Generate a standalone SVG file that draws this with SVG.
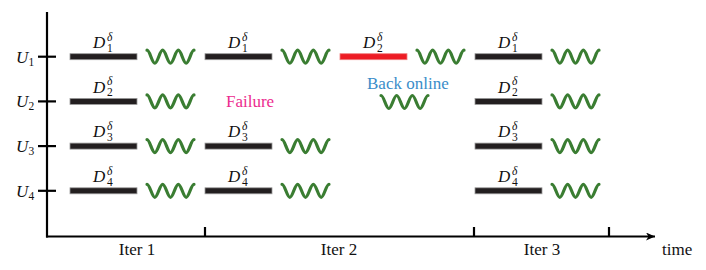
<svg xmlns="http://www.w3.org/2000/svg" xmlns:xlink="http://www.w3.org/1999/xlink" width="706" height="270" viewBox="0 0 706 270">
<style>
.t{font-family:"Liberation Serif","Times New Roman",serif;font-size:17px;fill:#111}
.m{font-family:"Liberation Serif","Times New Roman",serif;font-style:italic;font-size:17px;fill:#111}
.d{font-family:"Liberation Serif","Times New Roman",serif;font-style:italic;font-size:17px;fill:#111}
.s{font-family:"Liberation Serif","Times New Roman",serif;font-size:11.5px;fill:#111}
.si{font-family:"Liberation Serif","Times New Roman",serif;font-style:italic;font-size:11.5px;fill:#111}
.bar{fill:#231f20;stroke:#9a9a9a;stroke-width:0.8}
.red{fill:#ed1c24;stroke:#f08080;stroke-width:0.8}
.wave{fill:none;stroke:#3a7d32;stroke-width:3.2;stroke-linecap:round;stroke-linejoin:round}
.ax{stroke:#000;stroke-width:2.2;fill:none}
</style>
<defs>
<path id="w" class="wave" d="M0,-6.5 C2.85,-6.5 4.98,6.5 7.83,6.5 S12.82,-6.5 15.67,-6.5 S20.65,6.5 23.5,6.5 S28.48,-6.5 31.33,-6.5 S36.32,6.5 39.17,6.5 S44.15,-6.5 47,-6.5"/>
<marker id="arr" markerWidth="10" markerHeight="8" refX="9" refY="4" orient="auto" markerUnits="userSpaceOnUse">
<path d="M0,0 L9,4 L0,8 L2.5,4 Z" fill="#000"/>
</marker>
</defs>
<g id="axes">
<line class="ax" x1="47" y1="12" x2="47" y2="237.5"/>
<line class="ax" x1="46" y1="236.5" x2="655" y2="236.5" marker-end="url(#arr)"/>
<line class="ax" x1="38" y1="56.7" x2="56" y2="56.7"/>
<line class="ax" x1="38" y1="101.4" x2="56" y2="101.4"/>
<line class="ax" x1="38" y1="146.1" x2="56" y2="146.1"/>
<line class="ax" x1="38" y1="190.8" x2="56" y2="190.8"/>
<line class="ax" x1="205" y1="227" x2="205" y2="237"/>
<line class="ax" x1="474" y1="227" x2="474" y2="237"/>
<line class="ax" x1="609" y1="227" x2="609" y2="237"/>
</g>
<g id="labels">
<text class="m" x="16" y="62.5">U</text><text class="s" x="28.5" y="65.5">1</text>
<text class="m" x="16" y="107.2">U</text><text class="s" x="28.5" y="110.2">2</text>
<text class="m" x="16" y="151.9">U</text><text class="s" x="28.5" y="154.9">3</text>
<text class="m" x="16" y="196.6">U</text><text class="s" x="28.5" y="199.6">4</text>
<text class="t" x="137" y="255" text-anchor="middle">Iter 1</text>
<text class="t" x="339" y="255" text-anchor="middle">Iter 2</text>
<text class="t" x="542" y="255" text-anchor="middle">Iter 3</text>
<text class="t" x="662" y="255">time</text>
</g>
<g id="iter1">
<g id="i1u1"><rect class="bar" x="70" y="53.7" width="67" height="6"/><text class="d" x="93" y="48">D</text><text class="si" x="107" y="40.5">δ</text><text class="s" x="107" y="51.5">1</text><use xlink:href="#w" x="147" y="56.7"/></g>
<g id="i1u2"><rect class="bar" x="70" y="98.4" width="67" height="6"/><text class="d" x="93" y="92.7">D</text><text class="si" x="107" y="85.2">δ</text><text class="s" x="107" y="96.2">2</text><use xlink:href="#w" x="147" y="101.4"/></g>
<g id="i1u3"><rect class="bar" x="70" y="143.1" width="67" height="6"/><text class="d" x="93" y="137.4">D</text><text class="si" x="107" y="129.9">δ</text><text class="s" x="107" y="140.9">3</text><use xlink:href="#w" x="147" y="146.1"/></g>
<g id="i1u4"><rect class="bar" x="70" y="187.8" width="67" height="6"/><text class="d" x="93" y="182.1">D</text><text class="si" x="107" y="174.6">δ</text><text class="s" x="107" y="185.6">4</text><use xlink:href="#w" x="147" y="190.8"/></g>
</g>
<g id="iter2">
<g id="i2u1"><rect class="bar" x="205" y="53.7" width="67" height="6"/><text class="d" x="228" y="48">D</text><text class="si" x="242" y="40.5">δ</text><text class="s" x="242" y="51.5">1</text><use xlink:href="#w" x="282" y="56.7"/></g>
<g id="i2u1b"><rect class="red" x="340" y="53.7" width="67" height="6"/><text class="d" x="363" y="48">D</text><text class="si" x="377" y="40.5">δ</text><text class="s" x="377" y="51.5">2</text><use xlink:href="#w" x="417" y="56.7"/></g>
<g id="failure"><text class="t" x="226" y="107" style="fill:#ec2b8e">Failure</text></g>
<g id="backonline"><text class="t" x="367" y="89" style="fill:#3a8dc9">Back online</text><use xlink:href="#w" x="381" y="102"/></g>
<g id="i2u3"><rect class="bar" x="205" y="143.1" width="67" height="6"/><text class="d" x="228" y="137.4">D</text><text class="si" x="242" y="129.9">δ</text><text class="s" x="242" y="140.9">3</text><use xlink:href="#w" x="282" y="146.1"/></g>
<g id="i2u4"><rect class="bar" x="205" y="187.8" width="67" height="6"/><text class="d" x="228" y="182.1">D</text><text class="si" x="242" y="174.6">δ</text><text class="s" x="242" y="185.6">4</text><use xlink:href="#w" x="282" y="190.8"/></g>
</g>
<g id="iter3">
<g id="i3u1"><rect class="bar" x="475" y="53.7" width="67" height="6"/><text class="d" x="498" y="48">D</text><text class="si" x="512" y="40.5">δ</text><text class="s" x="512" y="51.5">1</text><use xlink:href="#w" x="552" y="56.7"/></g>
<g id="i3u2"><rect class="bar" x="475" y="98.4" width="67" height="6"/><text class="d" x="498" y="92.7">D</text><text class="si" x="512" y="85.2">δ</text><text class="s" x="512" y="96.2">2</text><use xlink:href="#w" x="552" y="101.4"/></g>
<g id="i3u3"><rect class="bar" x="475" y="143.1" width="67" height="6"/><text class="d" x="498" y="137.4">D</text><text class="si" x="512" y="129.9">δ</text><text class="s" x="512" y="140.9">3</text><use xlink:href="#w" x="552" y="146.1"/></g>
<g id="i3u4"><rect class="bar" x="475" y="187.8" width="67" height="6"/><text class="d" x="498" y="182.1">D</text><text class="si" x="512" y="174.6">δ</text><text class="s" x="512" y="185.6">4</text><use xlink:href="#w" x="552" y="190.8"/></g>
</g>
</svg>
